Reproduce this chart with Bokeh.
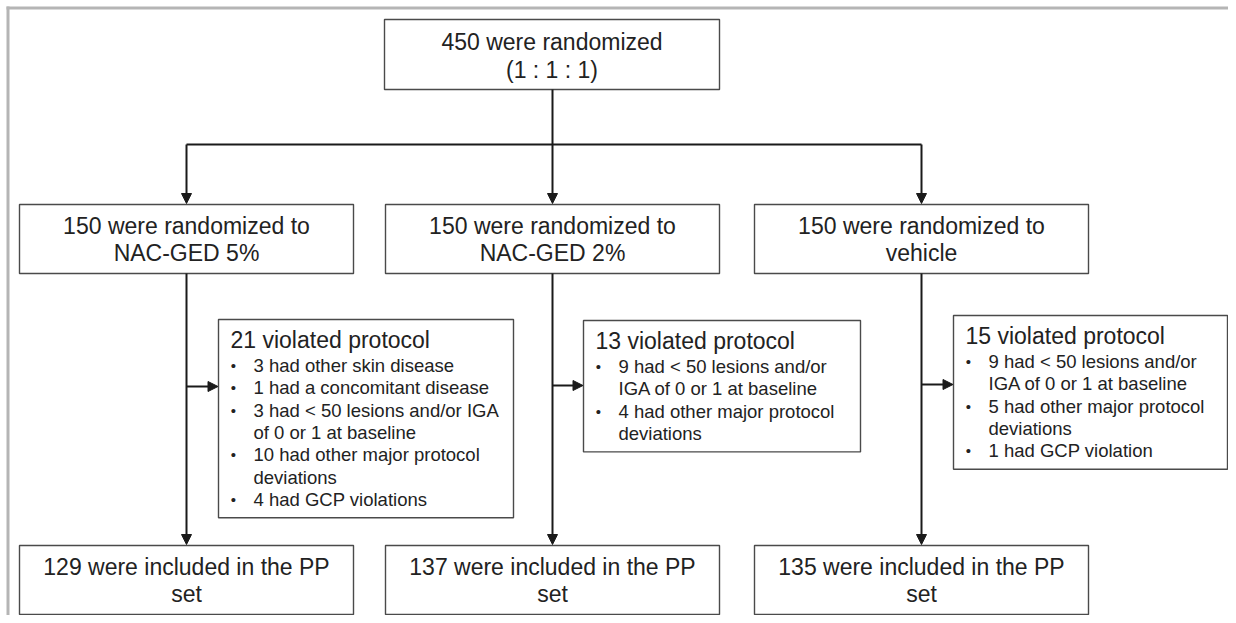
from bokeh.plotting import figure
from bokeh.models import Range1d, Arrow, NormalHead
from bokeh.core.properties import value
from bokeh.embed import file_html
from bokeh.resources import INLINE

# ---------------- data ----------------
n_randomized = 450
ratio_label = "(1 : 1 : 1)"
arm_names = ["NAC-GED 5%", "NAC-GED 2%", "vehicle"]
arm_sizes = [150, 150, 150]
violated_counts = [21, 13, 15]
included_counts = [129, 137, 135]
violation_items_arm1 = [
    ["3 had other skin disease"],
    ["1 had a concomitant disease"],
    ["3 had < 50 lesions and/or IGA", "of 0 or 1 at baseline"],
    ["10 had other major protocol", "deviations"],
    ["4 had GCP violations"],
]
violation_items_arm2 = [
    ["9 had < 50 lesions and/or", "IGA of 0 or 1 at baseline"],
    ["4 had other major protocol", "deviations"],
]
violation_items_arm3 = [
    ["9 had < 50 lesions and/or", "IGA of 0 or 1 at baseline"],
    ["5 had other major protocol", "deviations"],
    ["1 had GCP violation"],
]
violation_items = [violation_items_arm1, violation_items_arm2, violation_items_arm3]

# ---------------- layout (picture pixel coordinates) ----------------
W, H = 1228, 615
FONT = "Liberation Sans"
TXT = "#222222"
BOX_LINE = "#4a4a4a"
ARROW_C = "#1a1a1a"

col_x = [186, 552, 921]
box_w = 334
top_box = (384, 719, 19, 89)
arm_top, arm_bot = 204, 273
pp_top, pp_bot = 545, 614
hline_y = 144
viol_left = [218, 583, 953]
viol_right = [513, 860, 1227]
viol_top = [319, 320, 315]
line_step = 22.3

p = figure(width=W, height=H, output_backend="svg", toolbar_location=None,
           x_range=Range1d(0, W), y_range=Range1d(H, 0),
           min_border=0, outline_line_color=None)
p.xaxis.visible = False
p.yaxis.visible = False
p.grid.visible = False
p.background_fill_color = "white"
p.border_fill_color = "white"

# page frame (gray)
p.segment(x0=[7.5, 6], y0=[6, 7.5], x1=[7.5, W], y1=[H, 7.5],
          line_color="#b5b5b5", line_width=3)

# boxes
bl, br, bt, bb = [], [], [], []
bl.append(top_box[0]); br.append(top_box[1]); bt.append(top_box[2]); bb.append(top_box[3])
for cx in col_x:
    bl += [cx - box_w / 2, cx - box_w / 2]
    br += [cx + box_w / 2, cx + box_w / 2]
    bt += [arm_top, pp_top]
    bb += [arm_bot, pp_bot]
viol_bottom = []
for i in range(3):
    nlines = sum(len(it) for it in violation_items[i])
    bot = viol_top[i] + 46 + (nlines - 1) * line_step + 18.5
    viol_bottom.append(bot)
    bl.append(viol_left[i]); br.append(viol_right[i]); bt.append(viol_top[i]); bb.append(bot)
p.quad(left=bl, right=br, top=bt, bottom=bb, fill_color="white",
       line_color=BOX_LINE, line_width=1.4)

# connectors
p.segment(x0=[col_x[0]], y0=[hline_y], x1=[col_x[2]], y1=[hline_y],
          line_color=ARROW_C, line_width=2)


def arrow(x0, y0, x1, y1):
    p.add_layout(Arrow(end=NormalHead(size=10, fill_color=ARROW_C, line_color=ARROW_C, line_width=1),
                       x_start=x0, y_start=y0, x_end=x1, y_end=y1,
                       line_color=ARROW_C, line_width=2))


arrow(col_x[1], top_box[3], col_x[1], arm_top - 1)
arrow(col_x[0], hline_y, col_x[0], arm_top - 1)
arrow(col_x[2], hline_y, col_x[2], arm_top - 1)
arrow_y = [386, 385, 384]
for i, cx in enumerate(col_x):
    arrow(cx, arm_bot, cx, pp_top - 1)
    arrow(cx, arrow_y[i], viol_left[i] - 0.5, arrow_y[i])

# centred texts
cx_list, cy_list, ct_list = [], [], []
center_top = (top_box[0] + top_box[1]) / 2
cx_list += [center_top, center_top]
cy_list += [41, 69]
ct_list += [f"{n_randomized} were randomized", ratio_label]
for i, cx in enumerate(col_x):
    cx_list += [cx, cx, cx, cx]
    cy_list += [225, 252, 566, 593]
    ct_list += [f"{arm_sizes[i]} were randomized to", arm_names[i],
                f"{included_counts[i]} were included in the PP", "set"]
p.text(x=cx_list, y=cy_list, text=ct_list, text_font=value(FONT),
       text_font_size="23px", text_align="center", text_baseline="middle",
       text_color=TXT)

# violation headings
hx, hy, ht = [], [], []
for i in range(3):
    hx.append(viol_left[i] + 12)
    hy.append(viol_top[i] + 20)
    ht.append(f"{violated_counts[i]} violated protocol")
p.text(x=hx, y=hy, text=ht, text_font=value(FONT), text_font_size="23px",
       text_align="left", text_baseline="middle", text_color=TXT)

# bullet items
ix, iy, itxt, dx, dy = [], [], [], [], []
for i in range(3):
    y = viol_top[i] + 46
    for item in violation_items[i]:
        dx.append(viol_left[i] + 15)
        dy.append(y)
        for ln in item:
            ix.append(viol_left[i] + 35)
            iy.append(y)
            itxt.append(ln)
            y += line_step
p.text(x=ix, y=iy, text=itxt, text_font=value(FONT), text_font_size="18.5px",
       text_align="left", text_baseline="middle", text_color=TXT)
p.text(x=dx, y=dy, text=["\u2022"] * len(dx), text_font=value(FONT), text_font_size="15px",
       text_align="center", text_baseline="middle", text_color=TXT)

open("out.html", "w").write(file_html(p, INLINE))
